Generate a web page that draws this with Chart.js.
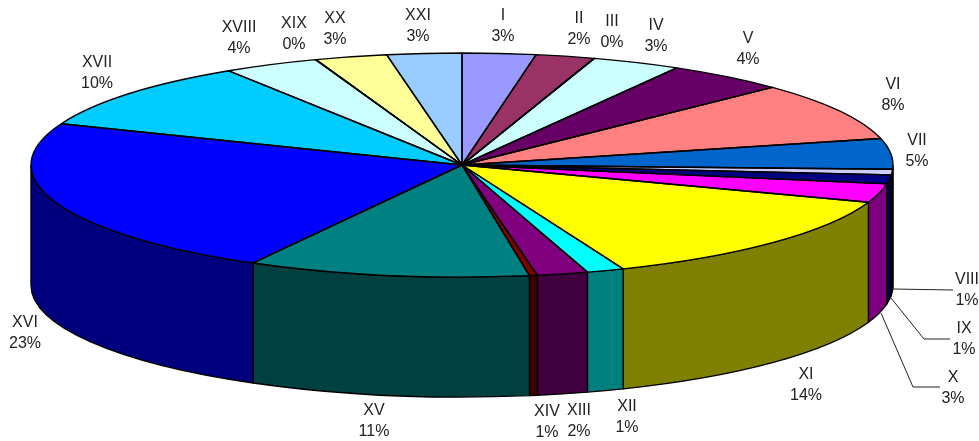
<!DOCTYPE html>
<html>
<head>
<meta charset="utf-8">
<script src="https://cdn.jsdelivr.net/npm/chart.js@4/dist/chart.umd.min.js"></script>
<style>
    html, body { margin: 0; padding: 0; background: #fff; }
    canvas { display: block; }
</style>
</head>
<body>
<canvas id="pie3d" width="979" height="441"></canvas>
<script>
    const categories = ['I','II','III','IV','V','VI','VII','VIII','IX','X','XI','XII','XIII','XIV','XV','XVI','XVII','XVIII','XIX','XX','XXI'];
    const values = [2.75, 2.2, 0.02, 3.33, 4.5, 8.4, 4.4, 0.8, 1.3, 2.7, 13.5, 1.4, 1.9, 0.3, 10.55, 22.95, 9.9, 3.58, 0.02, 2.7, 2.8];
    const percentLabels = ['3%','2%','0%','3%','4%','8%','5%','1%','1%','3%','14%','1%','2%','1%','11%','23%','10%','4%','0%','3%','3%'];
    const colors = ['#9999FF','#993366','#FFFFCC','#CCFFFF','#660066','#FF8080','#0066CC','#CCCCFF','#000080','#FF00FF','#FFFF00','#00FFFF','#800080','#800000','#008080','#0000FF','#00CCFF','#CCFFFF','#CCFFCC','#FFFF99','#99CCFF'];

    // label centres, first line middle (x, y)
    const labelX = [503, 579, 612, 656, 748, 893, 917, 967, 964, 953, 806, 627, 579, 547, 374, 25, 97, 239, 294, 335, 418];
    const labelY = [16, 19, 22, 26, 39, 85, 141, 280, 329, 378, 375, 407, 411, 412, 411, 323, 63, 28, 24, 19, 16];
    const lineGap = 21;

    // leader lines for the small slices on the right
    const leaders = [
        [[893, 289], [953, 290]],
        [[891, 298], [924, 339], [950, 339]],
        [[881, 313], [913, 387], [940, 387]]
    ];

    // pie shape on the page
    const cx = 462, cy = 165, rx = 431, ry = 112, depth = 120;

    function darker(hex) {
        const n = parseInt(hex.slice(1), 16);
        const r = (n >> 16) >> 1, g = ((n >> 8) & 255) >> 1, b = (n & 255) >> 1;
        return `rgb(${r},${g},${b})`;
    }

    const pie3d = {
        id: 'pie3d',
        // side wall first, then the library draws the top squashed into an ellipse
        beforeDatasetsDraw(chart) {
            const c = chart.ctx;
            const arcs = chart.getDatasetMeta(0).data;
            c.save();
            c.lineWidth = 1.4;
            c.strokeStyle = '#000';
            arcs.forEach((arc, i) => {
                const a0 = Math.max(arc.startAngle, 0);
                const a1 = Math.min(arc.endAngle, Math.PI);
                if (a1 <= a0) return;
                c.beginPath();
                c.ellipse(cx, cy, rx, ry, 0, a0, a1);
                c.ellipse(cx, cy + depth, rx, ry, 0, a1, a0, true);
                c.closePath();
                c.fillStyle = darker(colors[i]);
                c.fill();
                c.stroke();
            });
            c.restore();

            const r = arcs[0].outerRadius;
            c.save();
            c.translate(arcs[0].x, arcs[0].y);
            c.scale(rx / r, ry / r);
            c.translate(-arcs[0].x, -arcs[0].y);
        },
        afterDatasetsDraw(chart) {
            const c = chart.ctx;
            c.restore();
            const arcs = chart.getDatasetMeta(0).data;

            // outlines here so the line width is not stretched
            c.save();
            c.lineWidth = 1.4;
            c.strokeStyle = '#000';
            c.lineJoin = 'round';
            arcs.forEach(arc => {
                c.beginPath();
                c.moveTo(cx, cy);
                c.ellipse(cx, cy, rx, ry, 0, arc.startAngle, arc.endAngle);
                c.closePath();
                c.stroke();
            });
            c.restore();

            c.save();
            c.lineWidth = 1;
            c.strokeStyle = '#222';
            leaders.forEach(pts => {
                c.beginPath();
                pts.forEach((p, i) => i ? c.lineTo(p[0], p[1]) : c.moveTo(p[0], p[1]));
                c.stroke();
            });

            c.fillStyle = '#222';
            c.font = '16px "Liberation Sans", Arial, sans-serif';
            c.textAlign = 'center';
            c.textBaseline = 'middle';
            categories.forEach((name, i) => {
                c.fillText(name, labelX[i], labelY[i]);
                c.fillText(percentLabels[i], labelX[i], labelY[i] + lineGap);
            });
            c.restore();
        }
    };

    const ctx = document.getElementById('pie3d').getContext('2d');
    new Chart(ctx, {
        type: 'pie',
        data: {
            labels: categories,
            datasets: [{
                data: values,
                backgroundColor: colors,
                borderWidth: 0,
                clip: false
            }]
        },
        options: {
            responsive: false,
            animation: false,
            events: [],
            // square area around the pie centre, radius = ry
            layout: { padding: { left: cx - ry, right: 979 - cx - ry, top: cy - ry, bottom: 441 - cy - ry } },
            plugins: {
                legend: { display: false },
                tooltip: { enabled: false }
            }
        },
        plugins: [pie3d]
    });
</script>
</body>
</html>
